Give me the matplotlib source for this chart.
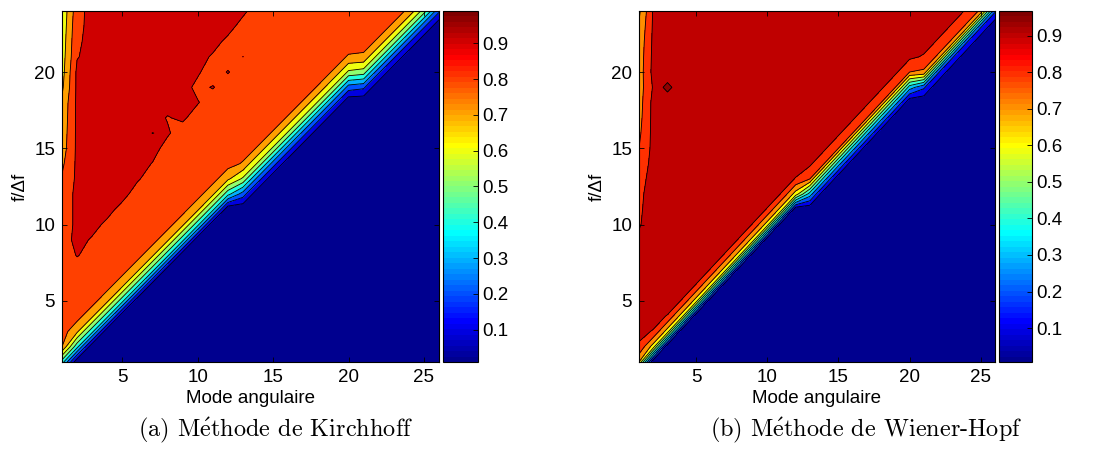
import numpy as np
import matplotlib
matplotlib.use("Agg")
import matplotlib.pyplot as plt
from matplotlib.colors import ListedColormap, Normalize
from matplotlib.cm import ScalarMappable

plt.rcParams['font.family'] = ['Liberation Sans', 'DejaVu Sans']
plt.rcParams['mathtext.fontset'] = 'cm'

# grille : mode angulaire (colonnes) x f/Δf (lignes)
modes = np.arange(1, 27)
freqs = np.arange(1, 25)

levels_a = [0.1, 0.2, 0.3, 0.4, 0.5, 0.6, 0.7, 0.8, 0.9]
levels_b = [0.1, 0.2, 0.3, 0.4, 0.5, 0.6, 0.7, 0.8, 0.9, 0.95]
clim_a = (0.01, 0.99)
clim_b = (0.007, 0.968)
cbar_ticks = [0.1, 0.2, 0.3, 0.4, 0.5, 0.6, 0.7, 0.8, 0.9]

# (a) Kirchhoff, une ligne par f/Δf = 1..24
L = 0.01
kirchhoff = [
    [0.45] + [L]*25,
    [0.80, 0.43] + [L]*24,
    [0.85, 0.72, 0.43] + [L]*23,
    [0.85, 0.84, 0.72, 0.43] + [L]*22,
    [0.85, 0.86, 0.84, 0.72, 0.43] + [L]*21,
    [0.85, 0.86, 0.86, 0.84, 0.72, 0.43] + [L]*20,
    [0.85, 0.86, 0.86, 0.86, 0.84, 0.72, 0.43] + [L]*19,
    [0.85, 0.905, 0.87, 0.86, 0.86, 0.84, 0.72, 0.43] + [L]*18,
    [0.85, 0.93, 0.89, 0.86, 0.86, 0.86, 0.84, 0.72, 0.43] + [L]*17,
    [0.85, 0.92, 0.93, 0.88, 0.86, 0.86, 0.86, 0.84, 0.72, 0.43] + [L]*16,
    [0.85, 0.92, 0.93, 0.93, 0.87, 0.86, 0.86, 0.86, 0.84, 0.72, 0.43] + [L]*15,
    [0.85, 0.92, 0.93, 0.93, 0.93, 0.86, 0.86, 0.86, 0.86, 0.84, 0.72, 0.43, 0.25] + [L]*13,
    [0.81, 0.92, 0.93, 0.93, 0.93, 0.91, 0.86, 0.86, 0.86, 0.86, 0.84, 0.72, 0.58, 0.25] + [L]*12,
    [0.78, 0.92, 0.93, 0.93, 0.93, 0.93, 0.897, 0.86, 0.86, 0.86, 0.86, 0.84, 0.79, 0.58, 0.25] + [L]*11,
    [0.75, 0.92] + [0.93]*5 + [0.87] + [0.86]*4 + [0.85, 0.79, 0.58, 0.25] + [L]*10,
    [0.74, 0.92] + [0.93]*4 + [0.899, 0.91] + [0.86]*5 + [0.85, 0.79, 0.58, 0.25] + [L]*9,
    [0.73, 0.92] + [0.93]*5 + [0.895, 0.915] + [0.86]*5 + [0.85, 0.79, 0.58, 0.25] + [L]*8,
    [0.72, 0.92] + [0.93]*6 + [0.92, 0.905] + [0.86]*5 + [0.85, 0.79, 0.58, 0.25] + [L]*7,
    [0.68, 0.92] + [0.93]*7 + [0.88, 0.905] + [0.86]*5 + [0.85, 0.79, 0.58, 0.25, 0.22] + [L]*5,
    [0.66, 0.92] + [0.93]*7 + [0.91, 0.86, 0.905] + [0.86]*5 + [0.85, 0.79, 0.58, 0.55, 0.22] + [L]*4,
    [0.65, 0.895] + [0.93]*8 + [0.89, 0.86, 0.9005] + [0.86]*5 + [0.85, 0.79, 0.78, 0.55, 0.22] + [L]*3,
    [0.64, 0.885] + [0.93]*9 + [0.88] + [0.86]*7 + [0.85, 0.85, 0.78, 0.55, 0.22] + [L]*2,
    [0.63, 0.875] + [0.93]*10 + [0.87] + [0.86]*8 + [0.85, 0.78, 0.55, 0.22] + [L],
    [0.62, 0.86, 0.94] + [0.93]*9 + [0.917] + [0.86]*9 + [0.85, 0.78, 0.55, 0.22],
]

# (b) Wiener-Hopf
L = 0.007
D = 0.94
wiener = [
    [0.70] + [L]*25,
    [0.89, 0.65] + [L]*24,
    [0.92, 0.895, 0.65] + [L]*23,
    [0.92, 0.93, 0.895, 0.65] + [L]*22,
    [0.92, 0.93, 0.945, 0.895, 0.65] + [L]*21,
    [0.92, 0.93, D, 0.945, 0.895, 0.65] + [L]*20,
    [0.92, 0.93] + [D]*2 + [0.945, 0.895, 0.65] + [L]*19,
    [0.92, 0.93] + [D]*3 + [0.945, 0.895, 0.65] + [L]*18,
    [0.91, 0.93] + [D]*4 + [0.945, 0.895, 0.65] + [L]*17,
    [0.895, 0.93] + [D]*5 + [0.945, 0.895, 0.65] + [L]*16,
    [0.89, 0.93] + [D]*6 + [0.945, 0.895, 0.65] + [L]*15,
    [0.885, 0.93] + [D]*7 + [0.945, 0.895, 0.65, 0.35] + [L]*13,
    [0.87, 0.93] + [D]*8 + [0.945, 0.895, 0.80, 0.35] + [L]*12,
    [0.84, 0.93] + [D]*9 + [0.945, 0.92, 0.80, 0.35] + [L]*11,
    [0.80, 0.93] + [D]*11 + [0.92, 0.80, 0.35] + [L]*10,
    [0.78, 0.93] + [D]*12 + [0.92, 0.80, 0.35] + [L]*9,
    [0.765, 0.93] + [D]*13 + [0.92, 0.80, 0.35] + [L]*8,
    [0.755, 0.93, 0.91] + [D]*13 + [0.92, 0.80, 0.35] + [L]*7,
    [0.75, 0.91, 0.968, 0.91] + [D]*13 + [0.92, 0.80, 0.35, 0.22] + [L]*5,
    [0.745, 0.93, 0.91] + [D]*15 + [0.92, 0.80, 0.78, 0.22] + [L]*4,
    [0.74, 0.925] + [D]*17 + [0.92, 0.89, 0.78, 0.22] + [L]*3,
    [0.73, 0.92] + [D]*18 + [0.945, 0.89, 0.78, 0.22] + [L]*2,
    [0.71, 0.915] + [D]*19 + [0.945, 0.89, 0.78, 0.22] + [L],
    [0.68, 0.91] + [D]*20 + [0.945, 0.89, 0.78, 0.22],
]

captions = [r'(a) M$\mathrm{\acute{e}}$thode de Kirchhoff',
            r'(b) M$\mathrm{\acute{e}}$thode de Wiener-Hopf']


def matlab_jet(m=64):
    # table jet(64) comme sous Matlab
    n = int(np.ceil(m / 4))
    u = np.concatenate([np.arange(1, n + 1) / n, np.ones(n - 1), np.arange(n, 0, -1) / n])
    g = int(np.ceil(n / 2)) - (m % 4 == 1) + np.arange(1, len(u) + 1)
    r = g + n
    b = g - n
    J = np.zeros((m, 3))
    r = r[r <= m]
    J[r - 1, 0] = u[:len(r)]
    J[g[g <= m] - 1, 1] = u[:len(g[g <= m])]
    b = b[b >= 1]
    J[b - 1, 2] = u[len(u) - len(b):]
    return J


jet = matlab_jet(64)
jet_cmap = ListedColormap(jet)


def draw(ax, cax, Z, levels, clim, caption, cx):
    lo, hi = clim
    bounds = [lo] + levels + [hi]
    cols = []
    for v in bounds[:-1]:
        k = int(np.floor((v - lo) / (hi - lo) * 64))
        cols.append(jet[min(max(k, 0), 63)])
    M, F = np.meshgrid(modes, freqs)
    ax.contourf(M, F, Z, levels=bounds, colors=cols)
    ax.contour(M, F, Z, levels=levels, colors='k', linewidths=0.6)
    ax.set_xlim(1, 26)
    ax.set_ylim(1, 24)
    ax.set_xticks([5, 10, 15, 20, 25])
    ax.set_yticks([5, 10, 15, 20])
    ax.tick_params(direction='in', top=True, right=True, length=3.5, width=0.6, labelsize=13.5, pad=5)
    ax.set_xlabel('Mode angulaire', fontsize=13.5, labelpad=3)
    ax.set_ylabel('f/Δf', fontsize=13.5, labelpad=4)
    for s in ax.spines.values():
        s.set_linewidth(0.8)

    sm = ScalarMappable(norm=Normalize(lo, hi), cmap=jet_cmap)
    cb = plt.colorbar(sm, cax=cax, ticks=cbar_ticks)
    cb.ax.set_yticklabels(['%.1f' % t for t in cbar_ticks])
    cb.ax.tick_params(direction='in', length=3.5, width=0.6, labelsize=13.5, pad=3)
    cb.outline.set_linewidth(0.8)

    fig.text(cx, 1 - 430 / 453, caption, ha='center', va='center', fontsize=17.5, family='cmr10')


fig = plt.figure(figsize=(10.95, 4.53), dpi=100)
W, H = 1095, 453
ax1 = fig.add_axes([62 / W, 1 - 362 / H, 377 / W, 351 / H])
cax1 = fig.add_axes([443 / W, 1 - 362 / H, 35 / W, 351 / H])
ax2 = fig.add_axes([639 / W, 1 - 362 / H, 356 / W, 351 / H])
cax2 = fig.add_axes([999 / W, 1 - 362 / H, 33 / W, 351 / H])

draw(ax1, cax1, np.array(kirchhoff), levels_a, clim_a, captions[0], 276 / W)
draw(ax2, cax2, np.array(wiener), levels_b, clim_b, captions[1], 866 / W)

fig.savefig('out.png', dpi=100)
